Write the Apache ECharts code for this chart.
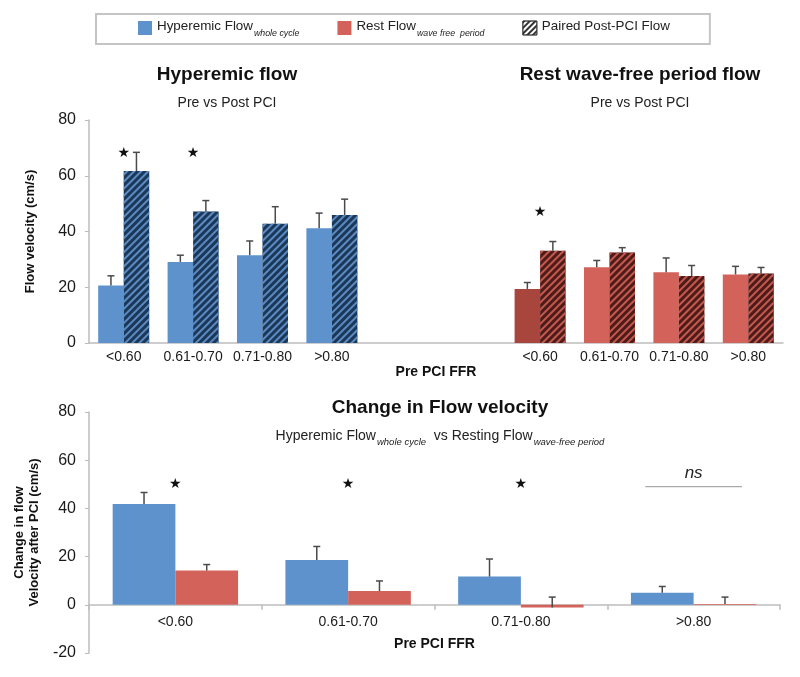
<!DOCTYPE html>
<html><head><meta charset="utf-8">
<script src="https://cdn.jsdelivr.net/npm/echarts@6/dist/echarts.min.js"></script>
<style>html,body{margin:0;padding:0;background:#fff}#c{width:800px;height:677px}</style>
</head><body><div id="c"></div>
<script>
// ---------- DATA ----------
const ffrGroups = ['<0.60', '0.61-0.70', '0.71-0.80', '>0.80'];
const topCategories = ['<0.60', '0.61-0.70', '0.71-0.80', '>0.80', '', '', '<0.60', '0.61-0.70', '0.71-0.80', '>0.80'];
// Hyperemic flow (whole cycle), pre and paired post PCI (cm/s), with upper SE
const hypPre = [20.6, 29.1, 31.5, 41.2];
const hypPreSE = [3.5, 2.4, 5.1, 5.4];
const hypPost = [61.7, 47.2, 42.8, 45.9];
const hypPostSE = [6.7, 3.9, 6.1, 5.7];
// Rest wave-free period flow, pre and paired post PCI (cm/s)
const restPre = [19.4, 27.2, 25.4, 24.6];
const restPreSE = [2.3, 2.4, 5.1, 2.9];
const restPost = [33.1, 32.5, 24.0, 24.9];
const restPostSE = [3.3, 1.7, 3.8, 2.2];
// Change in flow velocity after PCI (cm/s)
const hypChange = [41.8, 18.6, 11.7, 5.0];
const hypChangeSE = [4.8, 5.6, 7.3, 2.6];
const restChange = [14.2, 5.7, -1.1, 0.3];
const restChangeSE = [2.5, 4.2, 4.3, 2.9];
// significance marks
const topStarCats = [0, 1, 6];
const topStarValues = [68, 68, 47];
const bottomStarCats = [0, 1, 2];
const bottomStarValues = [50, 50, 50];
const nsCat = 3;
const nsTextValue = 54.7;
const nsLineValue = 49;
const yTicksTop = [0, 80, 20];      // min, max, interval
const yTicksBottom = [-20, 80, 20];

// ---------- STYLE ----------
const FONT = "'Liberation Sans', Arial, Helvetica, sans-serif";
const BLUE = '#5d92cc', RED = '#d3625a', DARKRED = '#a8463e';
const NAVY = '#1c3859', NAVY_STRIPE = '#5b8bc2';
const MAROON = '#4d1b18', MAROON_STRIPE = '#c6594f';
const AXIS = '#bdbdbd', TXT = '#1a1a1a', ERR = '#4a4a4a';
const TOP_GAP = 0.265, BOT_GAP = 0.274;
const BOT_GRID_H = 241;
function hatch(color) {
  return { symbol: 'rect', symbolSize: 1, dashArrayX: [1, 0], dashArrayY: [1.4, 2.4], rotation: -Math.PI / 4, color: color };
}
// the bottom category axis sits on the zero line
const bottomAxisOffset = -(0 - yTicksBottom[0]) * BOT_GRID_H / (yTicksBottom[1] - yTicksBottom[0]);

// top chart series data (10 categories: 4 hyperemic, 2 blank, 4 rest)
const topPreData = [], topPostData = [];
hypPre.forEach((v, i) => {
  topPreData.push({ value: v, itemStyle: { color: BLUE } });
  topPostData.push({ value: hypPost[i], itemStyle: { color: NAVY, decal: hatch(NAVY_STRIPE) } });
});
topPreData.push('-', '-'); topPostData.push('-', '-');
restPre.forEach((v, i) => {
  topPreData.push({ value: v, itemStyle: { color: i === 0 ? DARKRED : RED } });
  topPostData.push({ value: restPost[i], itemStyle: { color: MAROON, decal: hatch(MAROON_STRIPE) } });
});
const topErrData = [];
hypPre.forEach((v, i) => { topErrData.push([i, v, v + hypPreSE[i], -1]); topErrData.push([i, hypPost[i], hypPost[i] + hypPostSE[i], 1]); });
restPre.forEach((v, i) => { topErrData.push([i + 6, v, v + restPreSE[i], -1]); topErrData.push([i + 6, restPost[i], restPost[i] + restPostSE[i], 1]); });
const botErrData = [];
hypChange.forEach((v, i) => { botErrData.push([i, v, v + hypChangeSE[i], -1]); botErrData.push([i, restChange[i], restChange[i] + restChangeSE[i], 1]); });

function errorSeries(xi, yi, gap, data) {
  return {
    type: 'custom', xAxisIndex: xi, yAxisIndex: yi, silent: true, z: 5, data: data,
    encode: { x: 0, y: [1, 2] },
    renderItem(params, api) {
      const cat = api.value(0), v = api.value(1), t = api.value(2), side = api.value(3);
      const bw = api.size([1, 0])[0] * (1 - gap) / 2;
      const b = api.coord([cat, v]), p = api.coord([cat, t]);
      const x = b[0] + side * bw / 2;
      return { type: 'group', children: [
        { type: 'line', shape: { x1: x, y1: b[1], x2: x, y2: p[1] }, style: { stroke: ERR, lineWidth: 1.5 } },
        { type: 'line', shape: { x1: x - 3.5, y1: p[1], x2: x + 3.5, y2: p[1] }, style: { stroke: ERR, lineWidth: 1.5 } }
      ] };
    }
  };
}
function starSeries(xi, yi, cats, vals) {
  return {
    type: 'custom', xAxisIndex: xi, yAxisIndex: yi, silent: true, z: 6,
    data: cats.map((c, i) => [c, vals[i]]),
    renderItem(params, api) {
      const p = api.coord([api.value(0), api.value(1)]);
      return { type: 'text', style: { text: '★', x: p[0], y: p[1], align: 'center', verticalAlign: 'middle', fontSize: 14, fill: '#111', fontFamily: 'DejaVu Sans' } };
    }
  };
}

const option = {
  animation: false,
  backgroundColor: '#fff',
  textStyle: { fontFamily: FONT, color: TXT },
  title: [
    { text: 'Hyperemic flow', subtext: 'Pre vs Post PCI', left: 227, top: 64, textAlign: 'center', padding: 0, itemGap: 9,
      textStyle: { fontSize: 19, fontWeight: 'bold', color: '#111', lineHeight: 22, fontFamily: FONT },
      subtextStyle: { fontSize: 14, color: '#222', lineHeight: 16, fontFamily: FONT } },
    { text: 'Rest wave-free period flow', subtext: 'Pre vs Post PCI', left: 640, top: 64, textAlign: 'center', padding: 0, itemGap: 9,
      textStyle: { fontSize: 19, fontWeight: 'bold', color: '#111', lineHeight: 22, fontFamily: FONT },
      subtextStyle: { fontSize: 14, color: '#222', lineHeight: 16, fontFamily: FONT } },
    { text: 'Change in Flow velocity',
      subtext: '{m|Hyperemic Flow}{s|whole cycle}{m|  vs Resting Flow}{s|wave-free period}',
      left: 440, top: 397, textAlign: 'center', padding: 0, itemGap: 10,
      textStyle: { fontSize: 19, fontWeight: 'bold', color: '#111', lineHeight: 22, fontFamily: FONT },
      subtextStyle: { fontSize: 14, color: '#222', fontFamily: FONT,
        rich: {
          m: { fontSize: 14, lineHeight: 16, verticalAlign: 'top', color: '#222', fontFamily: FONT },
          s: { fontSize: 9.5, fontStyle: 'italic', lineHeight: 10, verticalAlign: 'top', padding: [8, 0, 0, 1], color: '#222', fontFamily: FONT }
        } } }
  ],
  legend: {
    left: 96, top: 14, padding: [6, 40, 6, 42], itemGap: 38, itemWidth: 14, itemHeight: 14,
    borderColor: '#c4c4c4', borderWidth: 2, selectedMode: false, icon: 'rect',
    data: [
      { name: 'Hyperemic Flow' },
      { name: 'Rest Flow' },
      { name: 'Paired Post-PCI Flow', itemStyle: { color: '#fff', borderColor: '#333', borderWidth: 0.8, decal: { symbol: 'rect', symbolSize: 1, dashArrayX: [1, 0], dashArrayY: [1.2, 2], rotation: -Math.PI / 4, color: '#333' } } }
    ],
    formatter: function (n) {
      if (n === 'Hyperemic Flow') return '{a|Hyperemic Flow}{s|whole cycle}';
      if (n === 'Rest Flow') return '{a|Rest Flow}{s|wave free  period}';
      return '{a|' + n + '}';
    },
    textStyle: { fontFamily: FONT, color: '#222', fontSize: 13.4,
      rich: {
        a: { fontSize: 13.4, lineHeight: 16, verticalAlign: 'top', color: '#222', fontFamily: FONT },
        s: { fontSize: 8.8, fontStyle: 'italic', lineHeight: 9, verticalAlign: 'top', padding: [9, 0, 0, 1], color: '#222', fontFamily: FONT }
      } }
  },
  grid: [
    { left: 89, right: 17, top: 120, height: 223, containLabel: false, outerBoundsMode: 'none' },
    { left: 89, right: 20, top: 412, height: BOT_GRID_H, containLabel: false, outerBoundsMode: 'none' }
  ],
  xAxis: [
    { gridIndex: 0, type: 'category', data: topCategories,
      axisLine: { lineStyle: { color: AXIS, width: 1.5 } }, axisTick: { show: false },
      axisLabel: { interval: 0, fontSize: 14, color: TXT, margin: 7, fontFamily: FONT },
      name: 'Pre PCI FFR', nameLocation: 'middle', nameGap: 7,
      nameTextStyle: { fontWeight: 'bold', fontSize: 14, color: '#111', verticalAlign: 'top', fontFamily: FONT } },
    { gridIndex: 1, type: 'category', data: ffrGroups, offset: bottomAxisOffset,
      axisLine: { onZero: false, lineStyle: { color: AXIS, width: 1.5 } },
      axisTick: { show: true, length: 5, lineStyle: { color: AXIS, width: 1.5 } },
      axisLabel: { interval: 0, fontSize: 14, color: TXT, margin: 10, fontFamily: FONT },
      name: 'Pre PCI FFR', nameLocation: 'middle', nameGap: 32,
      nameTextStyle: { fontWeight: 'bold', fontSize: 14, color: '#111', verticalAlign: 'top', fontFamily: FONT } }
  ],
  yAxis: [
    { gridIndex: 0, type: 'value', min: yTicksTop[0], max: yTicksTop[1], interval: yTicksTop[2],
      axisLine: { show: true, lineStyle: { color: AXIS, width: 1.5 } },
      axisTick: { show: true, length: 4, lineStyle: { color: AXIS } }, splitLine: { show: false },
      axisLabel: { fontSize: 16, color: TXT, margin: 13, fontFamily: FONT },
      name: 'Flow velocity (cm/s)', nameLocation: 'middle', nameGap: 52,
      nameTextStyle: { fontWeight: 'bold', fontSize: 13, color: '#111', fontFamily: FONT } },
    { gridIndex: 1, type: 'value', min: yTicksBottom[0], max: yTicksBottom[1], interval: yTicksBottom[2],
      axisLine: { show: true, lineStyle: { color: AXIS, width: 1.5 } },
      axisTick: { show: true, length: 4, lineStyle: { color: AXIS } }, splitLine: { show: false },
      axisLabel: { fontSize: 16, color: TXT, margin: 13, fontFamily: FONT },
      name: 'Change in flow\nVelocity after PCI (cm/s)', nameLocation: 'middle', nameGap: 46,
      nameTextStyle: { fontWeight: 'bold', fontSize: 13, lineHeight: 15, color: '#111', fontFamily: FONT } }
  ],
  series: [
    { name: 'Pre-PCI Flow', type: 'bar', xAxisIndex: 0, yAxisIndex: 0, data: topPreData,
      barGap: 0, barCategoryGap: (TOP_GAP * 100) + '%', itemStyle: { color: BLUE } },
    { name: 'Paired Post-PCI Flow', type: 'bar', xAxisIndex: 0, yAxisIndex: 0, data: topPostData,
      barGap: 0, barCategoryGap: (TOP_GAP * 100) + '%', itemStyle: { color: NAVY } },
    { name: 'Hyperemic Flow', type: 'bar', xAxisIndex: 1, yAxisIndex: 1, data: hypChange,
      barGap: 0, barCategoryGap: (BOT_GAP * 100) + '%', itemStyle: { color: BLUE } },
    { name: 'Rest Flow', type: 'bar', xAxisIndex: 1, yAxisIndex: 1, data: restChange,
      barGap: 0, barCategoryGap: (BOT_GAP * 100) + '%', itemStyle: { color: RED } },
    errorSeries(0, 0, TOP_GAP, topErrData),
    errorSeries(1, 1, BOT_GAP, botErrData),
    starSeries(0, 0, topStarCats, topStarValues),
    starSeries(1, 1, bottomStarCats, bottomStarValues),
    { type: 'custom', xAxisIndex: 1, yAxisIndex: 1, silent: true, z: 6,
      data: [[nsCat, nsTextValue, nsLineValue]],
      renderItem(params, api) {
        const c = api.value(0);
        const pt = api.coord([c, api.value(1)]), pl = api.coord([c, api.value(2)]);
        const hw = api.size([1, 0])[0] * 0.28;
        return { type: 'group', children: [
          { type: 'text', style: { text: 'ns', x: pt[0], y: pt[1], align: 'center', verticalAlign: 'middle', fontSize: 17, fontStyle: 'italic', fill: '#222', fontFamily: FONT } },
          { type: 'line', shape: { x1: pl[0] - hw, y1: pl[1], x2: pl[0] + hw, y2: pl[1] }, style: { stroke: '#aaa', lineWidth: 1.2 } }
        ] };
      } }
  ]
};
const chart = echarts.init(document.getElementById('c'), null, { renderer: 'canvas' });
chart.setOption(option);
</script>
</body></html>
